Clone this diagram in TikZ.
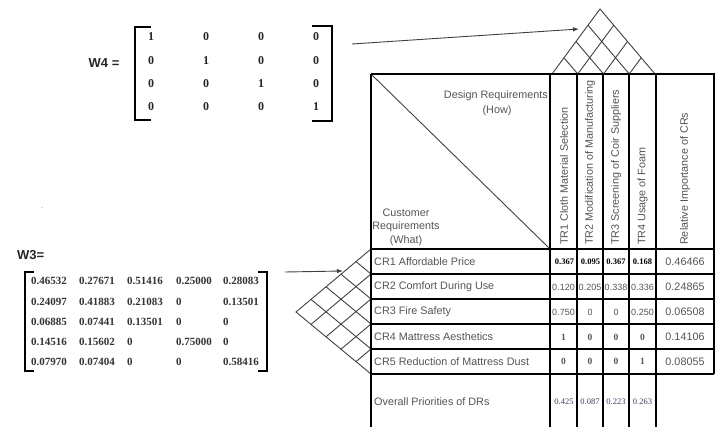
\documentclass[tikz,border=0pt]{standalone}
\usepackage{fontspec}
\setmainfont{Liberation Serif}
\setsansfont{Liberation Sans}
\usetikzlibrary{arrows.meta,calc}
\definecolor{txt}{gray}{0.33}
\definecolor{roofc}{gray}{0.25}
\definecolor{navy}{RGB}{55,65,95}
\begin{document}
\begin{tikzpicture}[x=1pt,y=-1pt,
  gridline/.style={line width=2.4pt,black},
  roofline/.style={line width=0.9pt,roofc},
  conn/.style={line width=0.9pt,roofc,-{Latex[length=6pt,width=4.5pt]}},
  bracket/.style={line width=2.4pt,black,line cap=rect},
  lbl/.style={font=\sffamily\fontsize{10.8}{12.5}\selectfont,text=txt,inner sep=0pt},
  vlbl/.style={lbl,rotate=90,anchor=west},
  rel/.style={font=\sffamily\fontsize{10.8}{12}\selectfont,text=txt,inner sep=0pt},
  vone/.style={font=\bfseries\fontsize{8.5}{9}\selectfont,text=black,inner sep=0pt},
  vsans/.style={font=\sffamily\fontsize{9}{10}\selectfont,text=txt,inner sep=0pt},
  vserif/.style={font=\bfseries\fontsize{9.5}{10}\selectfont,text=txt,inner sep=0pt},
  vtot/.style={font=\fontsize{8.5}{9}\selectfont,text=navy,inner sep=0pt},
  mfour/.style={font=\bfseries\fontsize{12}{13}\selectfont,text=black!85,inner sep=0pt},
  mthree/.style={font=\bfseries\fontsize{11}{12}\selectfont,text=black!80,inner sep=0pt,anchor=west},
  wlbl/.style={font=\sffamily\bfseries\fontsize{13}{14}\selectfont,text=black!85,inner sep=0pt}
]
\useasboundingbox (0,0) rectangle (720,427);

% ---------- W4 matrix ----------
\node[wlbl] (w4lbl) at (104,63) {W4 =};
\draw[bracket] (150,27) -- (135,27) -- (135,120) -- (150,120);
\draw[bracket] (313,26) -- (332,26) -- (332,121) -- (313,121);
\foreach \r/\y in {1/37,2/61,3/84,4/107}{
  \foreach \c/\x in {1/151,2/206,3/261,4/316}{
    \ifnum\r=\c
      \node[mfour] (w4-\r-\c) at (\x,\y) {1};
    \else
      \node[mfour] (w4-\r-\c) at (\x,\y) {0};
    \fi
  }
}

% ---------- W3 matrix ----------
\node[wlbl,anchor=west] (w3lbl) at (17,255) {W3=};
\node[font=\fontsize{8}{8}\selectfont,text=gray,inner sep=0pt,anchor=base] (dot) at (42,209) {.};
\draw[bracket] (33,272) -- (25,272) -- (25,371) -- (33,371);
\draw[bracket] (259,272) -- (267,272) -- (267,371) -- (259,371);
\foreach \r/\y/\a/\b/\cc/\d/\e in {
  1/281/0.46532/0.27671/0.51416/0.25000/0.28083,
  2/301.5/0.24097/0.41883/0.21083/0/0.13501,
  3/321.5/0.06885/0.07441/0.13501/0/0,
  4/341.5/0.14516/0.15602/0/0.75000/0,
  5/362/0.07970/0.07404/0/0/0.58416}{
  \node[mthree] (w3-\r-1) at (31,\y) {\a};
  \node[mthree] (w3-\r-2) at (79,\y) {\b};
  \node[mthree] (w3-\r-3) at (127,\y) {\cc};
  \node[mthree] (w3-\r-4) at (176,\y) {\d};
  \node[mthree] (w3-\r-5) at (223,\y) {\e};
}

% ---------- top roof ----------
\coordinate (ta) at (600,9);
\coordinate (tb0) at (552,74);
\coordinate (tb4) at (655,74);
\draw[roofline] (tb0) -- (ta) -- (tb4);
\foreach \k in {1,2,3}{
  \coordinate (tb\k) at ($(tb0)!{\k/4}!(tb4)$);
  \draw[roofline] (tb\k) -- ($(tb4)!{(4-\k)/4}!(ta)$);
  \draw[roofline] (tb\k) -- ($(tb0)!{\k/4}!(ta)$);
}

% ---------- left roof ----------
\coordinate (lu) at (371,249);
\coordinate (ld) at (371,374);
\coordinate (lp) at (296,312);
\draw[roofline] (lu) -- (lp) -- (ld);
\foreach \k in {1,2,3,4}{
  \coordinate (lb\k) at ($(lu)!{\k/5}!(ld)$);
  \draw[roofline] (lb\k) -- ($(ld)!{(5-\k)/5}!(lp)$);
  \draw[roofline] (lb\k) -- ($(lu)!{\k/5}!(lp)$);
}

% ---------- table ----------
\draw[gridline] (371,74) -- (714,74) -- (714,374);
\draw[gridline] (371,74) -- (371,430);
\foreach \y in {249,274,299,324,349,374}{
  \draw[gridline] (371,\y) -- (714,\y);
}
\foreach \x in {550,577,603,629,656}{
  \draw[gridline] (\x,74) -- (\x,430);
}
\draw[roofline] (372,75) -- (549,248);

% header texts
\node[lbl,anchor=east] (dr1) at (548,96) {Design Requirements};
\node[lbl] (dr2) at (497,111) {(How)};
\node[lbl] (cr1) at (406,213) {Customer};
\node[lbl] (cr2) at (406,227) {Requirements};
\node[lbl] (cr3) at (406,241) {(What)};
\node[vlbl] (tr1) at (564,245) {TR1 Cloth Material Selection};
\node[vlbl] (tr2) at (590,245) {TR2 Modification of Manufacturing};
\node[vlbl] (tr3) at (616,245) {TR3 Screening of Coir Suppliers};
\node[vlbl] (tr4) at (642.5,245) {TR4 Usage of Foam};
\node[vlbl] (relh) at (685,245) {Relative Importance of CRs};

% row labels
\node[lbl,anchor=west] (row1) at (374,262) {CR1 Affordable Price};
\node[lbl,anchor=west] (row2) at (374,287) {CR2 Comfort During Use};
\node[lbl,anchor=west] (row3) at (374,312) {CR3 Fire Safety};
\node[lbl,anchor=west] (row4) at (374,337) {CR4 Mattress Aesthetics};
\node[lbl,anchor=west] (row5) at (374,362) {CR5 Reduction of Mattress Dust};
\node[lbl,anchor=west] (row6) at (374,402) {Overall Priorities of DRs};

% values
\node[vone] (v11) at (564.5,262) {0.367};
\node[vone] (v12) at (590.5,262) {0.095};
\node[vone] (v13) at (616,262) {0.367};
\node[vone] (v14) at (642.5,262) {0.168};
\node[vsans] (v21) at (563.5,287) {0.120};
\node[vsans] (v22) at (590,287) {0.205};
\node[vsans] (v23) at (616,287) {0.338};
\node[vsans] (v24) at (642.5,287) {0.336};
\node[vsans] (v31) at (563.5,312) {0.750};
\node[vsans] (v32) at (590,312) {0};
\node[vsans] (v33) at (616,312) {0};
\node[vsans] (v34) at (642.5,312) {0.250};
\node[vserif] (v41) at (563.5,337) {1};
\node[vserif] (v42) at (590,337) {0};
\node[vserif] (v43) at (616,337) {0};
\node[vserif] (v44) at (642.5,337) {0};
\node[vserif] (v51) at (563.5,361) {0};
\node[vserif] (v52) at (590,361) {0};
\node[vserif] (v53) at (616,361) {0};
\node[vserif] (v54) at (642.5,361) {1};
\node[vtot] (t1) at (564,402) {0.425};
\node[vtot] (t2) at (590,402) {0.087};
\node[vtot] (t3) at (616,402) {0.223};
\node[vtot] (t4) at (642.5,402) {0.263};
\node[rel] (r1) at (685,262) {0.46466};
\node[rel] (r2) at (685,287) {0.24865};
\node[rel] (r3) at (685,312) {0.06508};
\node[rel] (r4) at (685,337) {0.14106};
\node[rel] (r5) at (685,362) {0.08055};

% ---------- arrows ----------
\coordinate (w4s) at (352,44);
\coordinate (w4e) at (579,29);
\draw[conn] (w4s) -- (w4e);
\coordinate (w3s) at (285,272);
\coordinate (w3e) at (343,271);
\draw[conn] (w3s) -- (w3e);
\end{tikzpicture}
\end{document}
